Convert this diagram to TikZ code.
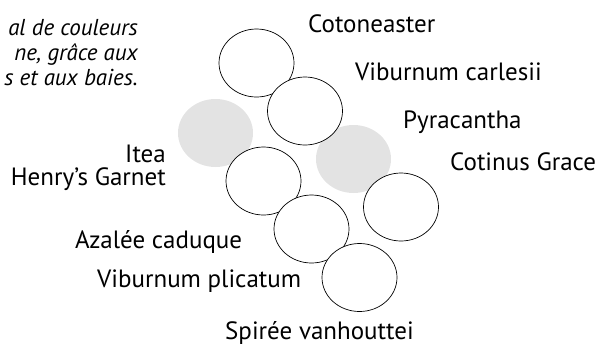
\documentclass[tikz,border=0pt]{standalone}
\usepackage{fontspec}
\setmainfont{PT Sans}
\begin{document}
\begin{tikzpicture}[x=1pt,y=-1pt,
  bush/.style={draw=black,line width=0.7pt,fill=white},
  shade/.style={fill=black!11,draw=none},
  lbl/.style={inner sep=0pt,font=\fontsize{25}{27}\selectfont},
  note/.style={inner sep=0pt,align=right,font=\fontsize{23}{25}\selectfont\itshape}]
\useasboundingbox (0,0) rectangle (601,346);
\fill[shade] (215.5,133) ellipse [x radius=37.5,y radius=34];
\fill[shade] (353.5,159) ellipse [x radius=37.5,y radius=34];
\draw[bush] (256.5,63) ellipse [x radius=37.5,y radius=34];
\draw[bush] (305,111) ellipse [x radius=37.5,y radius=34];
\draw[bush] (263.5,181) ellipse [x radius=37.5,y radius=34];
\draw[bush] (311.5,229) ellipse [x radius=37.5,y radius=34];
\draw[bush] (359.5,277.5) ellipse [x radius=37.5,y radius=34];
\draw[bush] (401,207) ellipse [x radius=37.5,y radius=34];
\node[lbl,anchor=base west] (cot) at (308,32) {Cotoneaster};
\node[lbl,anchor=base west] (vca) at (355,80) {Viburnum carlesii};
\node[lbl,anchor=base west] (pyr) at (403,128) {Pyracantha};
\node[lbl,anchor=base west] (cgr) at (450,170) {Cotinus Grace};
\node[lbl,anchor=base east] (ite) at (166,162) {Itea};
\node[lbl,anchor=base east] (hgr) at (166,185) {Henry's Garnet};
\node[lbl,anchor=base west] (aza) at (75,248) {Azalée caduque};
\node[lbl,anchor=base west] (vpl) at (97,287) {Viburnum plicatum};
\node[lbl,anchor=base west] (spi) at (225,339) {Spirée vanhouttei};
\node[note,anchor=base east] (txt) at (138,85) {al de couleurs\\ne, grâce aux\\s et aux baies.};
\end{tikzpicture}
\end{document}
